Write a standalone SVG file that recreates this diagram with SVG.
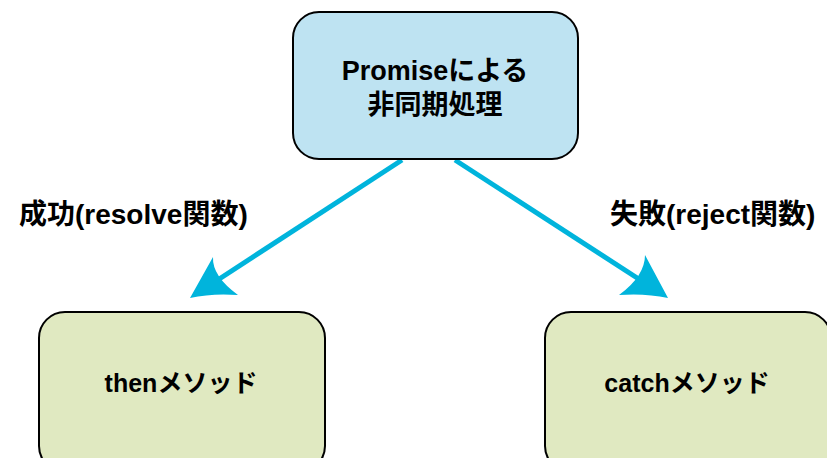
<svg xmlns="http://www.w3.org/2000/svg" width="827" height="458" viewBox="0 0 827 458">
<style>
.box{stroke:#000;stroke-width:2}
.blue{fill:#bee3f2}
.green{fill:#e0e9c1}
.t{font-family:"Liberation Sans","Noto Sans CJK JP",sans-serif;font-weight:bold;fill:#000}
.c{stroke:#00b4dc;stroke-width:5;fill:none}
.h{fill:#00b4dc;stroke:none}
</style>
<rect width="827" height="458" fill="#fff"/>
<g id="connectors">
<line class="c" x1="402" y1="160" x2="210" y2="285"/>
<path class="h" d="M190,298 L213,257 Q212,276 238,295 Q212,293 190,298 Z"/>
<line class="c" x1="455" y1="160" x2="648" y2="285"/>
<path class="h" d="M668,298 L645,255 Q645,276 619,295 Q645,293 668,298 Z"/>
</g>
<g id="label-resolve"><text class="t" x="19" y="224" font-size="28">成功(resolve関数)</text></g>
<g id="label-reject"><text class="t" x="610" y="224" font-size="28">失敗(reject関数)</text></g>
<g id="promise">
<rect class="box blue" x="293" y="12" width="285" height="147" rx="26"/>
<text class="t" x="435" y="80" font-size="27" text-anchor="middle">Promiseによる</text>
<text class="t" x="435" y="114" font-size="27" text-anchor="middle">非同期処理</text>
</g>
<g id="then">
<rect class="box green" x="39" y="312" width="286" height="160" rx="26"/>
<text class="t" x="181" y="392" font-size="25" text-anchor="middle">thenメソッド</text>
</g>
<g id="catch">
<rect class="box green" x="545" y="312" width="286" height="160" rx="26"/>
<text class="t" x="687" y="392" font-size="25" text-anchor="middle">catchメソッド</text>
</g>
</svg>
